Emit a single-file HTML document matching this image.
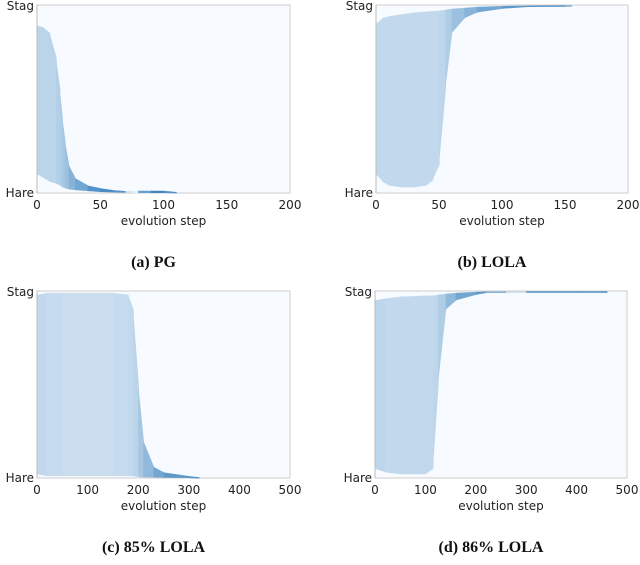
<!DOCTYPE html>
<html><head><meta charset="utf-8"><style>
body{margin:0;background:#fff;width:640px;height:560px;overflow:hidden}
svg text{font-family:"DejaVu Sans","Liberation Sans",sans-serif;font-size:12px;fill:#222}
svg text.cap{font-family:"Liberation Serif",serif;font-weight:bold;font-size:16px;fill:#111}
</style></head><body>
<svg id="fig" width="640" height="560"></svg>
<script>
// Panel (a) PG
const stepsA=[0,5,10,15,18,20,22,25,30,40,50,60,70,75,80,90,100,110];
const hiA=[0.89,0.88,0.85,0.72,0.55,0.4,0.28,0.15,0.08,0.04,0.025,0.015,0.01,0.01,0.012,0.012,0.012,0.005];
const loA=[0.1,0.08,0.06,0.05,0.04,0.03,0.025,0.02,0.015,0.01,0.005,0.003,0.002,0,0,0,0,0];
const alA=[0.3,0.3,0.3,0.33,0.36,0.4,0.45,0.55,0.65,0.8,0.85,0.8,0.2,0.1,0.7,0.9,0.8,0.2];
// Panel (b) LOLA
const stepsB=[0,5,10,20,30,40,45,50,55,60,70,80,100,120,150,155];
const hiB=[0.9,0.93,0.94,0.95,0.96,0.965,0.968,0.97,0.975,0.98,0.985,0.99,0.995,0.997,0.998,0.998];
const loB=[0.1,0.06,0.04,0.03,0.03,0.04,0.07,0.15,0.55,0.85,0.93,0.96,0.98,0.99,0.995,0.998];
const alB=[0.26,0.26,0.26,0.26,0.26,0.26,0.26,0.28,0.35,0.45,0.55,0.65,0.75,0.8,0.6,0.3];
// Panel (c) 85% LOLA
const stepsC=[0,20,50,100,150,180,190,200,210,230,250,300,320];
const hiC=[0.98,0.99,0.99,0.99,0.99,0.98,0.9,0.5,0.2,0.06,0.03,0.01,0.004];
const loC=[0.02,0.01,0.01,0.01,0.01,0.01,0.01,0.005,0.004,0.003,0.002,0,0];
const alC=[0.26,0.24,0.22,0.22,0.24,0.26,0.3,0.4,0.5,0.65,0.75,0.8,0.3];
// Panel (d) 86% LOLA
const stepsD=[0,20,50,100,115,125,140,160,200,220,260,300,400,450,460];
const hiD=[0.95,0.96,0.97,0.975,0.975,0.98,0.985,0.99,0.995,0.997,0.997,0.998,0.998,0.998,0.998];
const loD=[0.05,0.03,0.02,0.02,0.05,0.5,0.9,0.95,0.98,0.99,0.995,0.993,0.993,0.993,0.998];
const alD=[0.28,0.26,0.26,0.26,0.28,0.35,0.5,0.65,0.75,0.55,0.2,0.85,0.85,0.85,0.3];
const ticksA=[0,50,100,150,200], ticksC=[0,100,200,300,400,500];

const NS='http://www.w3.org/2000/svg', svg=document.getElementById('fig');
function mk(t,a,p){const e=document.createElementNS(NS,t);for(const k in a)e.setAttribute(k,a[k]);(p||svg).appendChild(e);return e;}
function mix(a){const c0=[247,251,255],c1=[33,113,181];a=Math.min(1,a*0.95);
  return 'rgb('+c0.map((v,i)=>Math.round(v+(c1[i]-v)*a)).join(',')+')';}
function panel(id,x0,y0,w,h,xmax,steps,hi,lo,al,ticks,cap){
  const g=mk('g',{});
  
  
  const sx=v=>x0+v/xmax*w, sy=v=>y0+h-v*h;
  const bg=mk('rect',{x:x0,y:y0,width:w,height:h,fill:'#f7fbff',stroke:'#ccc','stroke-width':1},g);
  
  
  for(let i=0;i<steps.length-1;i++){
    const xa=sx(steps[i]),xb=sx(steps[i+1])+0.6;
    let ta=sy(hi[i]),tb=sy(hi[i+1]),ba=sy(lo[i]),bb=sy(lo[i+1]);
    if(ba-ta<1.4){ba=ta+1.4;} if(bb-tb<1.4){bb=tb+1.4;}
    const p=mk('polygon',{points:`${xa},${ta} ${xb},${tb} ${xb},${bb} ${xa},${ba}`,fill:mix(al[i])},g);
    
    
  }
  mk('line',{x1:x0,y1:y0,x2:x0,y2:y0+h,stroke:'#bbb'},g);
  ticks.forEach(t=>{const tx=mk('text',{x:sx(t),y:y0+h+16,'text-anchor':'middle'},g);tx.textContent=t;
    
    });
  const s=mk('text',{x:x0-3,y:y0+5,'text-anchor':'end'},g);s.textContent='Stag';
  
  
  const hr=mk('text',{x:x0-3,y:y0+h+4,'text-anchor':'end'},g);hr.textContent='Hare';
  
  
  const xl=mk('text',{x:x0+w/2,y:y0+h+32,'text-anchor':'middle'},g);xl.textContent='evolution step';
  
  
  const c=mk('text',{x:x0+w/2-10,y:y0+h+74,'text-anchor':'middle','class':'cap'},g);c.textContent=cap;
  
  
}
panel('a',37,5,253,188,200,stepsA,hiA,loA,alA,ticksA,'(a) PG');
panel('b',376,5,252,188,200,stepsB,hiB,loB,alB,ticksA,'(b) LOLA');
panel('c',37,291,253,187,500,stepsC,hiC,loC,alC,ticksC,'(c) 85% LOLA');
panel('d',375,291,252,187,500,stepsD,hiD,loD,alD,ticksC,'(d) 86% LOLA');
</script>
</body></html>
